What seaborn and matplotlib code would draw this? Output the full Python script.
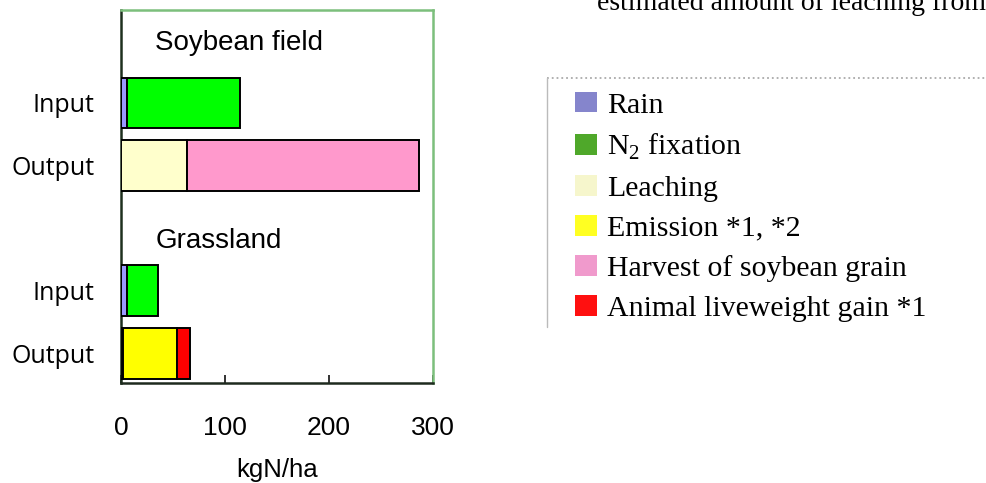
import numpy as np
import matplotlib
matplotlib.use("Agg")
import matplotlib.pyplot as plt
from matplotlib.patches import Patch
from matplotlib.lines import Line2D
import seaborn as sns

# ---- data ----
row_labels = ["Input", "Output", "Input", "Output"]
row_pos = [0, 1, 3, 4]
group_names = ["Soybean field", "Grassland"]
group_label_pos = [-0.95, 2.2]
components = ["Rain", "N$_\\mathrm{2}$ fixation", "Leaching", "Emission *1, *2",
              "Harvest of soybean grain", "Animal liveweight gain *1"]
rain = [6, 0, 6, 0]
n2_fixation = [108, 0, 30, 0]
leaching = [0, 63, 0, 1.5]
emission = [0, 0, 0, 52.5]
harvest = [0, 224, 0, 0]
animal_gain = [0, 0, 0, 12]
xticks = [0, 100, 200, 300]

# ---- style ----
bar_colors = ["#9999FF", "#00FF00", "#FFFFCC", "#FFFF00", "#FF99CC", "#FF0000"]
legend_colors = ["#8585CC", "#4FA82A", "#F6F6CC", "#FFFF22", "#F09ACC", "#FF1010"]

sns.set_theme(style="white")
plt.rcParams["font.family"] = ["Liberation Sans", "DejaVu Sans"]
plt.rcParams["mathtext.fontset"] = "custom"
plt.rcParams["mathtext.rm"] = "Liberation Serif"
for k in ["text.color", "axes.labelcolor", "xtick.color", "ytick.color"]:
    plt.rcParams[k] = "black"

fig = plt.figure(figsize=(9.87, 4.83), dpi=100)
ax = fig.add_axes([121/987, 1-383/483, 312/987, 373/483])

series = [rain, n2_fixation, leaching, emission, harvest, animal_gain]
left = np.zeros(len(row_pos))
for vals, col in zip(series, bar_colors):
    v = np.array(vals, dtype=float)
    m = v > 0
    ax.barh(np.array(row_pos)[m], v[m], left=left[m], height=0.81,
            color=col, edgecolor="black", linewidth=1.4, zorder=3)
    left += v

ax.set_xlim(0, 300)
ax.set_ylim(4.476, -1.484)
ax.set_yticks(row_pos)
ax.set_yticklabels(row_labels, fontsize=18, fontfamily="Open Sans")
ax.set_xticks(xticks)
ax.set_xticklabels([str(t) for t in xticks], fontsize=19)
ax.tick_params(axis="y", length=0, pad=19)
ax.tick_params(axis="x", direction="in", length=6, width=1.3, color="#222222",
               pad=24, bottom=True)
ax.set_xlabel("kgN/ha", fontsize=18.5, labelpad=12.5)

for s in ["top", "right"]:
    ax.spines[s].set_color("#7CBF7C")
    ax.spines[s].set_linewidth(1.8)
ax.spines["left"].set_color("#1E301E")
ax.spines["left"].set_linewidth(1.8)
ax.spines["bottom"].set_color("#1E2A1E")
ax.spines["bottom"].set_linewidth(1.8)

for name, yp in zip(group_names, group_label_pos):
    ax.text(33, yp, name, fontsize=20, va="center", ha="left")

# legend frame: dotted top edge and light left edge, open at the bottom/right
fig.add_artist(Line2D([547/987, 1.0], [1-78/483, 1-78/483], transform=fig.transFigure,
                      color="#AAAAAA", linestyle=":", linewidth=1.3))
fig.add_artist(Line2D([547/987, 547/987], [1-78/483, 1-327/483], transform=fig.transFigure,
                      color="#BBBBBB", linestyle="-", linewidth=1.0))

handles = [Patch(facecolor=c, edgecolor="none") for c in legend_colors]
leg = fig.legend(handles, components, loc="upper left",
                 bbox_to_anchor=(575/987, 1-92/483),
                 prop={"family": "Liberation Serif", "size": 21.5},
                 frameon=False, handlelength=0.74, handleheight=0.67,
                 handletextpad=0.33, labelspacing=0.445, borderpad=0,
                 borderaxespad=0)

fig.text(597/987, 1-10/483, "estimated amount of leaching from",
         fontsize=20, fontfamily="Liberation Serif", va="baseline", ha="left")

fig.savefig("out.png", dpi=100)
